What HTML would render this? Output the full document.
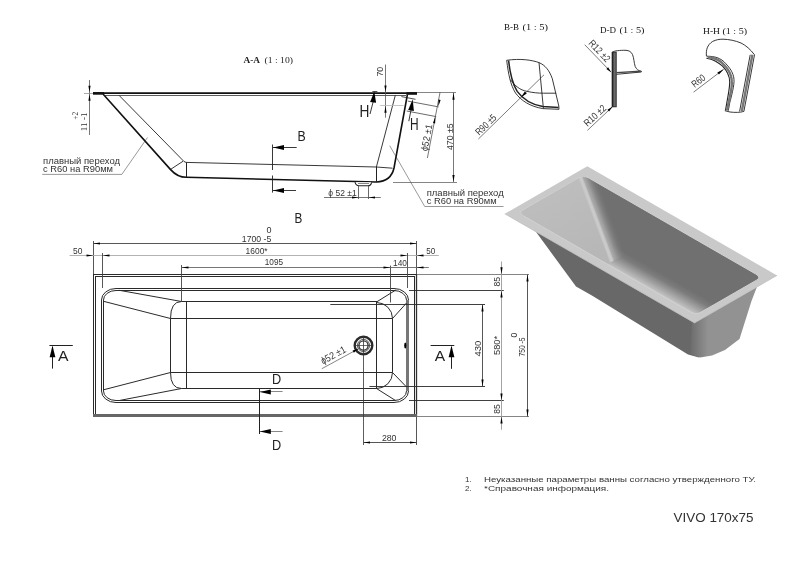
<!DOCTYPE html>
<html><head><meta charset="utf-8"><style>
html,body{margin:0;padding:0;background:#fff;}
body{width:800px;height:566px;overflow:hidden;font-family:"Liberation Sans",sans-serif;}
svg{display:block;will-change:transform;}
</style></head><body>
<svg width="800" height="566" viewBox="0 0 800 566">
<rect width="800" height="566" fill="#fff"/>
<defs>
<linearGradient id="gWall" gradientUnits="userSpaceOnUse" x1="650" y1="288.6" x2="659.5" y2="272">
<stop offset="0" stop-color="#c4c4c4"/><stop offset="0.25" stop-color="#aaaaaa"/><stop offset="0.7" stop-color="#7c7c7c"/><stop offset="1" stop-color="#707070"/></linearGradient>
<linearGradient id="gRidge" gradientUnits="userSpaceOnUse" x1="590" y1="205" x2="606" y2="202">
<stop offset="0" stop-color="#c9c9c9"/><stop offset="0.25" stop-color="#cdcdcd"/><stop offset="0.45" stop-color="#a9a9a9"/><stop offset="1" stop-color="#7c7c7c"/></linearGradient>
<linearGradient id="gBack" gradientUnits="userSpaceOnUse" x1="560" y1="190" x2="600" y2="250">
<stop offset="0" stop-color="#bdbdbd"/><stop offset="1" stop-color="#b7b7b7"/></linearGradient>
<linearGradient id="gCorner" gradientUnits="userSpaceOnUse" x1="688" y1="0" x2="708" y2="0">
<stop offset="0" stop-color="#676767"/><stop offset="1" stop-color="#929292"/></linearGradient>
<linearGradient id="gRS" gradientUnits="userSpaceOnUse" x1="590.3" y1="205" x2="605.3" y2="199.4">
<stop offset="0" stop-color="#bdbdbd"/><stop offset="0.35" stop-color="#9c9c9c"/><stop offset="1" stop-color="#727272" stop-opacity="0"/></linearGradient>
<clipPath id="cOpen"><path d="M523.69,216.02 L690.25,311.81 Q695.94,315.09 700.89,312.24 L756.57,280.17 Q761.52,277.32 755.83,274.05 L589.28,178.26 Q583.59,174.99 578.64,177.84 L522.95,209.90 Q518.00,212.75 523.69,216.02 Z"/></clipPath>
</defs>
<polygon points="535,230.5 576,286.6 591.9,295.4 688,354.5 699,357.6 699,322 " fill="#686868"/>
<polygon points="692,323.5 757,286.8 751.5,301 739.5,339 725,350 712,355.5 700,357.6 690,354" fill="url(#gCorner)"/>
<polygon points="587.30,166.30 504.80,213.80 694.50,322.90 777.00,275.40" fill="#c9c9c9"/>
<polyline points="504.80,213.80 694.50,322.90 777.00,275.40" fill="none" stroke="#c0c0c0" stroke-width="0.8"/>
<g clip-path="url(#cOpen)">
<rect x="500" y="160" width="280" height="170" fill="url(#gWall)"/>
<polygon points="598.2,169 579.5,176 611.5,261 630.2,254" fill="url(#gRS)"/>
<polygon points="570,168 579.5,176 611.5,261 607,266 510,212" fill="url(#gBack)"/>
<line x1="579.5" y1="175" x2="611.8" y2="261.5" stroke="#c3c3c3" stroke-width="4"/>
<line x1="579.5" y1="175" x2="611.8" y2="261.5" stroke="#cacaca" stroke-width="2.2"/>
</g>
<path d="M523.69,216.02 L690.25,311.81 Q695.94,315.09 700.89,312.24 L756.57,280.17 Q761.52,277.32 755.83,274.05 L589.28,178.26 Q583.59,174.99 578.64,177.84 L522.95,209.90 Q518.00,212.75 523.69,216.02 Z" fill="none" stroke="#d2d2d2" stroke-width="1"/>
<line x1="93" y1="93.1" x2="417" y2="93.1" stroke="#111" stroke-width="1.9" />
<line x1="93" y1="93.4" x2="104" y2="93.4" stroke="#111" stroke-width="2.6" />
<line x1="406.5" y1="93.5" x2="417" y2="93.5" stroke="#111" stroke-width="2.6" />
<line x1="104" y1="95.5" x2="406" y2="95.5" stroke="#333" stroke-width="0.8" />
<line x1="417" y1="92.5" x2="456" y2="92.5" stroke="#666" stroke-width="0.8" />
<path d="M103,94 L170.6,169.6 Q177.5,177.3 186.3,177.3 L376.4,182 Q391,181.5 394,168 L407.4,94.5" stroke="#111" stroke-width="1.6" fill="none" />
<polyline points="119,95.3 184,161.5 186,162.4 376.4,167 395.3,95.3" stroke="#222" stroke-width="0.9" fill="none" />
<line x1="183.1" y1="161.2" x2="170.9" y2="169.2" stroke="#222" stroke-width="0.9" />
<line x1="186.5" y1="162.5" x2="186.5" y2="177.3" stroke="#222" stroke-width="1" />
<line x1="376.4" y1="167" x2="392.5" y2="168.2" stroke="#222" stroke-width="0.9" />
<line x1="376.5" y1="167" x2="376.5" y2="182" stroke="#222" stroke-width="1" />
<path d="M355,182.2 Q356,185.8 359,185.8 L367.8,185.8 Q371,185.8 371.6,182.3" stroke="#222" stroke-width="1.1" fill="#fff" />
<line x1="358" y1="183.5" x2="369" y2="183.5" stroke="#555" stroke-width="0.7" />
<text x="243.5" y="63" font-family="Liberation Serif" font-size="9" fill="#222" text-anchor="start" font-weight="bold" textLength="16.5" lengthAdjust="spacingAndGlyphs" >A-A</text>
<text x="264.5" y="63" font-family="Liberation Serif" font-size="9" fill="#222" text-anchor="start" font-weight="normal" textLength="28.5" lengthAdjust="spacingAndGlyphs" >(1 : 10)</text>
<line x1="89.5" y1="80" x2="89.5" y2="135" stroke="#555" stroke-width="0.8" />
<polygon points="89.50,92.30 88.40,85.80 90.60,85.80" fill="#000"/>
<polygon points="89.50,94.30 90.60,100.80 88.40,100.80" fill="#000"/>
<line x1="84" y1="93.5" x2="93" y2="93.5" stroke="#888" stroke-width="0.7" />
<text x="78.3" y="119.8" font-family="Liberation Serif" font-size="9" fill="#333" text-anchor="start" font-weight="normal" transform="rotate(-90 78.3 119.8)" textLength="8" lengthAdjust="spacingAndGlyphs" >+2</text>
<text x="87.5" y="131.3" font-family="Liberation Serif" font-size="9" fill="#333" text-anchor="start" font-weight="normal" transform="rotate(-90 87.5 131.3)" textLength="18.9" lengthAdjust="spacingAndGlyphs" >11 -1</text>
<line x1="385.5" y1="64.5" x2="385.5" y2="117.7" stroke="#555" stroke-width="0.8" />
<polygon points="385.50,92.00 384.40,85.50 386.60,85.50" fill="#000"/>
<polygon points="385.50,105.70 386.60,112.70 384.40,112.70" fill="#000"/>
<line x1="380.2" y1="105.5" x2="403.5" y2="105.5" stroke="#b5b5b5" stroke-width="0.8" />
<text x="383.4" y="76.5" font-family="Liberation Sans" font-size="9" fill="#333" text-anchor="start" font-weight="normal" transform="rotate(-90 383.4 76.5)" textLength="9.75" lengthAdjust="spacingAndGlyphs" >70</text>
<line x1="453.5" y1="92.6" x2="453.5" y2="182" stroke="#555" stroke-width="0.8" />
<polygon points="453.50,92.80 454.60,99.80 452.40,99.80" fill="#000"/>
<polygon points="453.50,182.00 452.40,175.00 454.60,175.00" fill="#000"/>
<line x1="393" y1="182.5" x2="457" y2="182.5" stroke="#666" stroke-width="0.8" />
<text x="452.6" y="150" font-family="Liberation Sans" font-size="9.3" fill="#333" text-anchor="start" font-weight="normal" transform="rotate(-90 452.6 150)" textLength="26.5" lengthAdjust="spacingAndGlyphs" >470 ±5</text>
<line x1="372.4" y1="91.5" x2="377.3" y2="91.5" stroke="#222" stroke-width="0.8" />
<line x1="370" y1="114" x2="373.1" y2="102" stroke="#222" stroke-width="0.9" />
<polygon points="374.30,91.50 376.10,102.76 370.14,102.11" fill="#000"/>
<text x="359.6" y="117" font-family="Liberation Sans" font-size="15.7" fill="#222" text-anchor="start" font-weight="normal" textLength="9.9" lengthAdjust="spacingAndGlyphs" >H</text>
<line x1="401.4" y1="96.6" x2="415.5" y2="99.3" stroke="#222" stroke-width="0.8" />
<line x1="408.8" y1="121.2" x2="411" y2="110" stroke="#222" stroke-width="0.9" />
<polygon points="412.70,99.30 413.89,110.91 408.15,110.04" fill="#000"/>
<text x="410" y="130" font-family="Liberation Sans" font-size="15.7" fill="#222" text-anchor="start" font-weight="normal" textLength="8.6" lengthAdjust="spacingAndGlyphs" >H</text>
<line x1="407.8" y1="101.1" x2="438.6" y2="106.9" stroke="#444" stroke-width="0.8" />
<line x1="406.7" y1="111" x2="436.2" y2="116.6" stroke="#444" stroke-width="0.8" />
<line x1="440.1" y1="92" x2="427.4" y2="158" stroke="#555" stroke-width="0.8" />
<polygon points="438.30,106.60 438.48,99.52 440.64,99.91" fill="#000"/>
<polygon points="435.40,116.40 435.14,123.48 432.98,123.06" fill="#000"/>
<text x="427.3" y="151.5" font-family="Liberation Sans" font-size="9.5" fill="#333" text-anchor="start" font-weight="normal" transform="rotate(-79.2 427.3 151.5)" textLength="27" lengthAdjust="spacingAndGlyphs" >ϕ52 ±1</text>
<line x1="358.5" y1="186" x2="358.5" y2="199" stroke="#444" stroke-width="0.8" />
<line x1="368.5" y1="186" x2="368.5" y2="199" stroke="#444" stroke-width="0.8" />
<line x1="324" y1="197.5" x2="380.8" y2="197.5" stroke="#555" stroke-width="0.8" />
<polygon points="358.50,197.50 352.00,198.60 352.00,196.40" fill="#000"/>
<polygon points="368.50,197.50 375.00,196.40 375.00,198.60" fill="#000"/>
<text x="328.3" y="195.5" font-family="Liberation Sans" font-size="9" fill="#333" text-anchor="start" font-weight="normal" textLength="28.4" lengthAdjust="spacingAndGlyphs" >ϕ 52 ±1</text>
<line x1="272.5" y1="144.5" x2="272.5" y2="170" stroke="#222" stroke-width="0.9" />
<line x1="272.5" y1="175.5" x2="272.5" y2="192.6" stroke="#222" stroke-width="0.9" />
<line x1="273" y1="147.5" x2="296.7" y2="147.5" stroke="#222" stroke-width="0.9" />
<polygon points="273.00,147.50 284.00,145.00 284.00,150.00" fill="#000"/>
<line x1="273" y1="190.5" x2="296" y2="190.5" stroke="#222" stroke-width="0.9" />
<polygon points="273.00,190.50 284.00,188.00 284.00,193.00" fill="#000"/>
<text x="297.4" y="140.6" font-family="Liberation Sans" font-size="14" fill="#222" text-anchor="start" font-weight="normal" textLength="8.2" lengthAdjust="spacingAndGlyphs" >B</text>
<text x="294.6" y="222.5" font-family="Liberation Sans" font-size="14" fill="#222" text-anchor="start" font-weight="normal" textLength="7.8" lengthAdjust="spacingAndGlyphs" >B</text>
<text x="43" y="164.4" font-family="Liberation Sans" font-size="8.8" fill="#333" text-anchor="start" font-weight="normal" textLength="77" lengthAdjust="spacingAndGlyphs" >плавный переход</text>
<text x="43" y="172" font-family="Liberation Sans" font-size="8.8" fill="#333" text-anchor="start" font-weight="normal" textLength="70" lengthAdjust="spacingAndGlyphs" >с R60 на R90мм</text>
<polyline points="42.2,174.4 121.8,174.4 147.5,137.5" stroke="#333" stroke-width="0.5" fill="none" />
<text x="426.7" y="196" font-family="Liberation Sans" font-size="8.8" fill="#333" text-anchor="start" font-weight="normal" textLength="77" lengthAdjust="spacingAndGlyphs" >плавный переход</text>
<text x="426.7" y="204.3" font-family="Liberation Sans" font-size="8.8" fill="#333" text-anchor="start" font-weight="normal" textLength="70" lengthAdjust="spacingAndGlyphs" >с R60 на R90мм</text>
<polyline points="503.5,206.5 424.75,206.5 389.7,145.7" stroke="#333" stroke-width="0.5" fill="none" />
<text x="504" y="30" font-family="Liberation Serif" font-size="9" fill="#111" text-anchor="start" font-weight="normal" textLength="15" lengthAdjust="spacingAndGlyphs" >B-B</text>
<text x="522.5" y="30" font-family="Liberation Serif" font-size="9" fill="#111" text-anchor="start" font-weight="normal" textLength="25.5" lengthAdjust="spacingAndGlyphs" >(1 : 5)</text>
<text x="600" y="32.6" font-family="Liberation Serif" font-size="9" fill="#111" text-anchor="start" font-weight="normal" textLength="16" lengthAdjust="spacingAndGlyphs" >D-D</text>
<text x="619.5" y="32.6" font-family="Liberation Serif" font-size="9" fill="#111" text-anchor="start" font-weight="normal" textLength="25" lengthAdjust="spacingAndGlyphs" >(1 : 5)</text>
<text x="703" y="33.5" font-family="Liberation Serif" font-size="9" fill="#111" text-anchor="start" font-weight="normal" textLength="17" lengthAdjust="spacingAndGlyphs" >H-H</text>
<text x="722.5" y="33.5" font-family="Liberation Serif" font-size="9" fill="#111" text-anchor="start" font-weight="normal" textLength="24.5" lengthAdjust="spacingAndGlyphs" >(1 : 5)</text>
<path d="M506.7,60.3 C520,58.3 532,60 539,62.6 C545,65 549.5,70.5 552.3,78.7 L558.8,106 L559,109.3 L542.8,108.6 C530,106.5 521,100.5 515.5,93 C510.5,85 508.3,74 506.7,60.3 Z" stroke="#222" stroke-width="0.9" fill="none" />
<path d="M508.6,60.6 C510,73.5 512.2,83.5 517.2,91.4 C522.7,99 531,104.5 542.8,106.6 L558.5,107.6" stroke="#222" stroke-width="1.5" fill="none" />
<path d="M510.6,79.8 C515,86 520,90 526.7,91.3 C533,92.7 538,93.2 543.4,93.2 L556.2,93.2" stroke="#222" stroke-width="0.9" fill="none" />
<line x1="539" y1="62.6" x2="543.4" y2="108.4" stroke="#222" stroke-width="0.9" />
<line x1="544" y1="74.8" x2="478.4" y2="139" stroke="#444" stroke-width="0.7" />
<polygon points="520.80,97.50 524.81,91.59 526.77,93.59" fill="#000"/>
<text x="479.3" y="135.8" font-family="Liberation Sans" font-size="10" fill="#333" text-anchor="start" font-weight="normal" transform="rotate(-44.2 479.3 135.8)" textLength="25" lengthAdjust="spacingAndGlyphs" >R90 ±5</text>
<rect x="612.3" y="52.2" width="3.9" height="54.6" fill="#6a6a6a" stroke="#222" stroke-width="0.9"/>
<line x1="612.6" y1="52" x2="612.6" y2="107" stroke="#222" stroke-width="1.6" />
<path d="M612.4,52.1 C614,50.8 620,50.2 626,50.3 C629,50.6 631,51.5 632.5,54.5 C634,58 634,63 635.2,66.5 C636.5,69.5 638.5,70.8 641.5,71.3 L641.3,72 L616.4,74.3" stroke="#222" stroke-width="0.9" fill="none" />
<path d="M616.4,72.6 L640.5,71.2" stroke="#444" stroke-width="1.4" fill="none" />
<line x1="584.7" y1="44.7" x2="610.7" y2="71.7" stroke="#444" stroke-width="0.7" />
<polygon points="611.40,72.40 606.37,68.91 608.10,67.25" fill="#000"/>
<text x="587.9" y="43.8" font-family="Liberation Sans" font-size="10" fill="#333" text-anchor="start" font-weight="normal" transform="rotate(46 587.9 43.8)" textLength="26.5" lengthAdjust="spacingAndGlyphs" >R12 ±2</text>
<line x1="612.6" y1="106.6" x2="587.4" y2="130.4" stroke="#444" stroke-width="0.7" />
<polygon points="612.60,106.60 609.07,111.60 607.42,109.85" fill="#000"/>
<text x="587.4" y="127.1" font-family="Liberation Sans" font-size="10" fill="#333" text-anchor="start" font-weight="normal" transform="rotate(-42.5 587.4 127.1)" textLength="26.6" lengthAdjust="spacingAndGlyphs" >R10 ±2</text>
<path d="M706.4,56 C706,50 707,45 712.7,41.4 C716,39.8 719,39.2 723,39.2 C729,39.3 735.4,40.7 741,43 C746,45.5 750.5,49.5 754.5,54.8 L743.9,111.4 C740,112.6 735,112.6 730,112 L724.8,110.7" stroke="#222" stroke-width="0.9" fill="none" />
<path d="M706.4,56.2 C711,56.3 714,56.6 717,57.6 C721,59 723.5,61 725.5,63.3 C729,67 731,70 731.8,71.8 C733.5,75 734.2,78.5 734,81.7 C733.8,86 733,89 732.5,91.6 C731.5,96 730.5,100 729.7,102.9 L728.3,110.7" stroke="#222" stroke-width="0.9" fill="none" />
<path d="M706.4,58.3 C709,58.6 712.5,59.5 715.6,61.2 C718,62.6 720.5,64.3 722.6,66.1 C724.5,68.5 726.5,70.5 727.6,73.2 C729,76 729.7,78.5 729.7,81.7 C729.7,86 729,90 728.3,94.4 L725.5,110.4" stroke="#222" stroke-width="1.1" fill="none" />
<path d="M707.5,57.3 C713,57.5 718,59.5 722,62.8 C726,66.5 729.5,71 731,76 C732,80 732,86 731,91 L727,110.5" stroke="#777" stroke-width="2.4" fill="none" />
<line x1="750.2" y1="54.8" x2="739.6" y2="111.4" stroke="#222" stroke-width="0.9" />
<line x1="752.4" y1="54.8" x2="741.8" y2="111.4" stroke="#777" stroke-width="2.4" />
<line x1="744" y1="57.5" x2="742" y2="60" stroke="#fff" stroke-width="0.5" />
<line x1="693.5" y1="92.2" x2="723.7" y2="69.2" stroke="#444" stroke-width="0.7" />
<polygon points="723.70,69.20 718.93,74.48 717.35,72.42" fill="#000"/>
<text x="694.7" y="87.9" font-family="Liberation Sans" font-size="10" fill="#333" text-anchor="start" font-weight="normal" transform="rotate(-38 694.7 87.9)" textLength="14.5" lengthAdjust="spacingAndGlyphs" >R60</text>
<line x1="93" y1="274.5" x2="417" y2="274.5" stroke="#2a2a2a" stroke-width="1" />
<line x1="95" y1="276.5" x2="415" y2="276.5" stroke="#2a2a2a" stroke-width="1" />
<line x1="93.5" y1="274" x2="93.5" y2="416" stroke="#2a2a2a" stroke-width="1" />
<line x1="95.5" y1="276" x2="95.5" y2="414" stroke="#2a2a2a" stroke-width="1" />
<line x1="414.5" y1="276" x2="414.5" y2="414" stroke="#2a2a2a" stroke-width="1" />
<line x1="416.5" y1="274" x2="416.5" y2="417" stroke="#333" stroke-width="1.3" />
<rect x="93" y="414" width="324" height="3" fill="#666"/>
<rect x="101.5" y="288.5" width="307" height="114" rx="14.5" ry="11.5" fill="none" stroke="#2a2a2a" stroke-width="1"/>
<rect x="103.5" y="290.5" width="303" height="110" rx="12.5" ry="9.5" fill="none" stroke="#2a2a2a" stroke-width="1"/>
<line x1="407.5" y1="300" x2="407.5" y2="391" stroke="#777" stroke-width="3" />
<line x1="103.5" y1="301.3" x2="170.5" y2="318.5" stroke="#2a2a2a" stroke-width="1" />
<line x1="119.3" y1="290.3" x2="181.5" y2="301.5" stroke="#2a2a2a" stroke-width="1" />
<line x1="103.5" y1="389.8" x2="170.5" y2="372.5" stroke="#2a2a2a" stroke-width="1" />
<line x1="119.3" y1="400.5" x2="181.5" y2="388.5" stroke="#2a2a2a" stroke-width="1" />
<path d="M181.5,301.5 Q170.5,301.5 170.5,318.5 L170.5,372.5 Q170.5,388.5 181.5,388.5" stroke="#2a2a2a" stroke-width="1" fill="none" />
<line x1="186.5" y1="301" x2="186.5" y2="389" stroke="#2a2a2a" stroke-width="1" />
<line x1="181.5" y1="301.5" x2="377" y2="301.5" stroke="#2a2a2a" stroke-width="1" />
<line x1="181.5" y1="388.5" x2="377" y2="388.5" stroke="#2a2a2a" stroke-width="1" />
<line x1="170.5" y1="318.5" x2="392.5" y2="318.5" stroke="#2a2a2a" stroke-width="1" />
<line x1="170.5" y1="372.5" x2="392.5" y2="372.5" stroke="#2a2a2a" stroke-width="1" />
<line x1="376.5" y1="301.5" x2="376.5" y2="388.5" stroke="#2a2a2a" stroke-width="1" />
<path d="M376.5,302.5 A16,16 0 0 1 392.5,318.5 L392.5,372.5 A16,16 0 0 1 376.5,388.5" stroke="#2a2a2a" stroke-width="1" fill="none" />
<line x1="376.5" y1="302" x2="395.8" y2="290" stroke="#2a2a2a" stroke-width="1" />
<line x1="392.5" y1="318.5" x2="406.5" y2="303" stroke="#2a2a2a" stroke-width="1" />
<line x1="392.5" y1="372.5" x2="406.5" y2="387" stroke="#2a2a2a" stroke-width="1" />
<line x1="376.5" y1="388.5" x2="395.5" y2="400.5" stroke="#2a2a2a" stroke-width="1" />
<ellipse cx="405.3" cy="345.5" rx="1.1" ry="3" fill="#000"/>
<circle cx="363.5" cy="345.5" r="8.8" fill="none" stroke="#2a2a2a" stroke-width="2.4"/>
<circle cx="363.5" cy="345.5" r="6.1" fill="none" stroke="#333" stroke-width="0.8"/>
<circle cx="363.5" cy="345.5" r="4.6" fill="none" stroke="#333" stroke-width="1.4"/>
<line x1="354" y1="345.5" x2="373" y2="345.5" stroke="#333" stroke-width="0.7" />
<line x1="363.5" y1="336" x2="363.5" y2="445" stroke="#333" stroke-width="0.8" />
<line x1="358" y1="349" x2="321.75" y2="368.75" stroke="#333" stroke-width="0.6" />
<polygon points="358.50,348.70 353.84,352.70 352.60,350.41" fill="#000"/>
<text x="323" y="364.6" font-family="Liberation Sans" font-size="10" fill="#333" text-anchor="start" font-weight="normal" transform="rotate(-28.6 323 364.6)" textLength="27" lengthAdjust="spacingAndGlyphs" >ϕ52 ±1</text>
<line x1="93.5" y1="241" x2="93.5" y2="274" stroke="#444" stroke-width="0.9" />
<line x1="416.5" y1="241" x2="416.5" y2="274" stroke="#444" stroke-width="0.9" />
<line x1="93.5" y1="243.5" x2="416.5" y2="243.5" stroke="#444" stroke-width="0.9" />
<polygon points="93.50,243.50 100.00,242.40 100.00,244.60" fill="#000"/>
<polygon points="416.50,243.50 410.00,244.60 410.00,242.40" fill="#000"/>
<text x="269" y="232.8" font-family="Liberation Sans" font-size="9" fill="#333" text-anchor="middle" font-weight="normal" >0</text>
<text x="241.8" y="241.6" font-family="Liberation Sans" font-size="9" fill="#333" text-anchor="start" font-weight="normal" textLength="29.5" lengthAdjust="spacingAndGlyphs" >1700 -5</text>
<line x1="69.6" y1="255.5" x2="438.8" y2="255.5" stroke="#aaa" stroke-width="0.9" />
<line x1="102.5" y1="253" x2="102.5" y2="288" stroke="#444" stroke-width="0.9" />
<line x1="407.5" y1="253" x2="407.5" y2="288" stroke="#444" stroke-width="0.9" />
<polygon points="93.50,255.50 86.50,256.60 86.50,254.40" fill="#000"/>
<polygon points="102.50,255.50 109.50,254.40 109.50,256.60" fill="#000"/>
<polygon points="407.50,255.50 400.50,256.60 400.50,254.40" fill="#000"/>
<polygon points="416.50,255.50 423.50,254.40 423.50,256.60" fill="#000"/>
<text x="73" y="253.9" font-family="Liberation Sans" font-size="9" fill="#333" text-anchor="start" font-weight="normal" textLength="9.4" lengthAdjust="spacingAndGlyphs" >50</text>
<text x="426.2" y="253.8" font-family="Liberation Sans" font-size="9" fill="#333" text-anchor="start" font-weight="normal" textLength="9" lengthAdjust="spacingAndGlyphs" >50</text>
<text x="245.6" y="253.8" font-family="Liberation Sans" font-size="9" fill="#333" text-anchor="start" font-weight="normal" textLength="22" lengthAdjust="spacingAndGlyphs" >1600*</text>
<line x1="181.5" y1="265" x2="181.5" y2="301" stroke="#444" stroke-width="0.9" />
<line x1="390.5" y1="265.6" x2="390.5" y2="302.5" stroke="#444" stroke-width="0.9" />
<line x1="181.5" y1="267.5" x2="428.8" y2="267.5" stroke="#666" stroke-width="0.9" />
<polygon points="181.50,267.50 188.50,266.40 188.50,268.60" fill="#000"/>
<polygon points="390.50,267.50 383.50,268.60 383.50,266.40" fill="#000"/>
<polygon points="416.50,267.50 423.50,266.40 423.50,268.60" fill="#000"/>
<text x="264.8" y="265.3" font-family="Liberation Sans" font-size="9" fill="#333" text-anchor="start" font-weight="normal" textLength="18.3" lengthAdjust="spacingAndGlyphs" >1095</text>
<text x="393" y="265.6" font-family="Liberation Sans" font-size="9" fill="#333" text-anchor="start" font-weight="normal" textLength="13.9" lengthAdjust="spacingAndGlyphs" >140</text>
<line x1="417" y1="274.5" x2="529" y2="274.5" stroke="#777" stroke-width="0.9" />
<line x1="409" y1="290.5" x2="503.8" y2="290.5" stroke="#2a2a2a" stroke-width="0.9" />
<line x1="409" y1="400.5" x2="503.8" y2="400.5" stroke="#2a2a2a" stroke-width="0.9" />
<line x1="417" y1="416.5" x2="529" y2="416.5" stroke="#777" stroke-width="0.9" />
<line x1="330.3" y1="304.5" x2="485" y2="304.5" stroke="#2a2a2a" stroke-width="0.9" />
<line x1="369.4" y1="386.5" x2="485" y2="386.5" stroke="#2a2a2a" stroke-width="0.9" />
<line x1="501.5" y1="261.5" x2="501.5" y2="429.7" stroke="#999" stroke-width="0.9" />
<polygon points="501.50,274.30 500.40,267.30 502.60,267.30" fill="#000"/>
<polygon points="501.50,290.50 502.60,297.50 500.40,297.50" fill="#000"/>
<polygon points="501.50,400.50 500.40,393.50 502.60,393.50" fill="#000"/>
<polygon points="501.50,416.50 502.60,423.50 500.40,423.50" fill="#000"/>
<line x1="482.5" y1="304.5" x2="482.5" y2="386.5" stroke="#444" stroke-width="0.9" />
<polygon points="482.50,304.50 483.60,311.50 481.40,311.50" fill="#000"/>
<polygon points="482.50,386.50 481.40,379.50 483.60,379.50" fill="#000"/>
<line x1="527.5" y1="274.5" x2="527.5" y2="416.5" stroke="#444" stroke-width="0.9" />
<polygon points="527.50,274.50 528.60,281.50 526.40,281.50" fill="#000"/>
<polygon points="527.50,416.50 526.40,409.50 528.60,409.50" fill="#000"/>
<text x="499.8" y="286.6" font-family="Liberation Sans" font-size="9" fill="#333" text-anchor="start" font-weight="normal" transform="rotate(-90 499.8 286.6)" textLength="9.6" lengthAdjust="spacingAndGlyphs" >85</text>
<text x="499.8" y="413.8" font-family="Liberation Sans" font-size="9" fill="#333" text-anchor="start" font-weight="normal" transform="rotate(-90 499.8 413.8)" textLength="9.5" lengthAdjust="spacingAndGlyphs" >85</text>
<text x="480.7" y="356.5" font-family="Liberation Sans" font-size="9.5" fill="#333" text-anchor="start" font-weight="normal" transform="rotate(-90 480.7 356.5)" textLength="15.9" lengthAdjust="spacingAndGlyphs" >430</text>
<text x="499.8" y="355" font-family="Liberation Sans" font-size="9" fill="#333" text-anchor="start" font-weight="normal" transform="rotate(-90 499.8 355)" textLength="19.1" lengthAdjust="spacingAndGlyphs" >580*</text>
<text x="517" y="337.5" font-family="Liberation Sans" font-size="9" fill="#333" text-anchor="start" font-weight="normal" transform="rotate(-90 517 337.5)" textLength="4.8" lengthAdjust="spacingAndGlyphs" >0</text>
<text x="525.2" y="356.5" font-family="Liberation Sans" font-size="9" fill="#333" text-anchor="start" font-weight="normal" transform="rotate(-90 525.2 356.5)" textLength="19" lengthAdjust="spacingAndGlyphs" >750 -5</text>
<line x1="416.5" y1="417" x2="416.5" y2="445" stroke="#444" stroke-width="0.9" />
<line x1="363.5" y1="442.5" x2="416.5" y2="442.5" stroke="#444" stroke-width="0.9" />
<polygon points="363.50,442.50 370.00,441.40 370.00,443.60" fill="#000"/>
<polygon points="416.50,442.50 410.00,443.60 410.00,441.40" fill="#000"/>
<text x="381.9" y="440.9" font-family="Liberation Sans" font-size="9" fill="#333" text-anchor="start" font-weight="normal" textLength="14.6" lengthAdjust="spacingAndGlyphs" >280</text>
<line x1="49.4" y1="345.5" x2="72.8" y2="345.5" stroke="#222" stroke-width="1" />
<line x1="52.5" y1="347" x2="52.5" y2="368.6" stroke="#222" stroke-width="1" />
<polygon points="52.50,345.50 55.35,357.20 49.65,357.20" fill="#000"/>
<text x="58.1" y="360.8" font-family="Liberation Sans" font-size="15" fill="#222" text-anchor="start" font-weight="normal" textLength="10.5" lengthAdjust="spacingAndGlyphs" >A</text>
<line x1="430.6" y1="345.5" x2="454.3" y2="345.5" stroke="#222" stroke-width="1" />
<line x1="451.5" y1="347" x2="451.5" y2="368.8" stroke="#222" stroke-width="1" />
<polygon points="451.50,345.50 454.35,357.20 448.65,357.20" fill="#000"/>
<text x="434.8" y="361.2" font-family="Liberation Sans" font-size="15" fill="#222" text-anchor="start" font-weight="normal" textLength="10.4" lengthAdjust="spacingAndGlyphs" >A</text>
<line x1="259.5" y1="389" x2="259.5" y2="434" stroke="#222" stroke-width="1" />
<line x1="260" y1="391.5" x2="282.6" y2="391.5" stroke="#888" stroke-width="1" />
<polygon points="259.80,391.90 270.80,389.40 270.80,394.40" fill="#000"/>
<line x1="260" y1="431.5" x2="282.6" y2="431.5" stroke="#888" stroke-width="1" />
<polygon points="259.80,431.50 270.80,429.00 270.80,434.00" fill="#000"/>
<text x="272" y="384.4" font-family="Liberation Sans" font-size="14.8" fill="#222" text-anchor="start" font-weight="normal" textLength="9.2" lengthAdjust="spacingAndGlyphs" >D</text>
<text x="272" y="449.6" font-family="Liberation Sans" font-size="14.8" fill="#222" text-anchor="start" font-weight="normal" textLength="9.2" lengthAdjust="spacingAndGlyphs" >D</text>
<text x="465" y="482.4" font-family="Liberation Sans" font-size="8" fill="#333" text-anchor="start" font-weight="normal" >1.</text>
<text x="484" y="482.4" font-family="Liberation Sans" font-size="8" fill="#333" text-anchor="start" font-weight="normal" textLength="272" lengthAdjust="spacingAndGlyphs" >Неуказанные параметры ванны согласно утвержденного ТУ.</text>
<text x="465" y="491" font-family="Liberation Sans" font-size="8" fill="#333" text-anchor="start" font-weight="normal" >2.</text>
<text x="484" y="491" font-family="Liberation Sans" font-size="8" fill="#333" text-anchor="start" font-weight="normal" textLength="125" lengthAdjust="spacingAndGlyphs" >*Справочная информация.</text>
<text x="673.5" y="522.3" font-family="Liberation Sans" font-size="13" fill="#333" text-anchor="start" font-weight="normal" textLength="80" lengthAdjust="spacingAndGlyphs" >VIVO 170x75</text>
</svg>
</body></html>
